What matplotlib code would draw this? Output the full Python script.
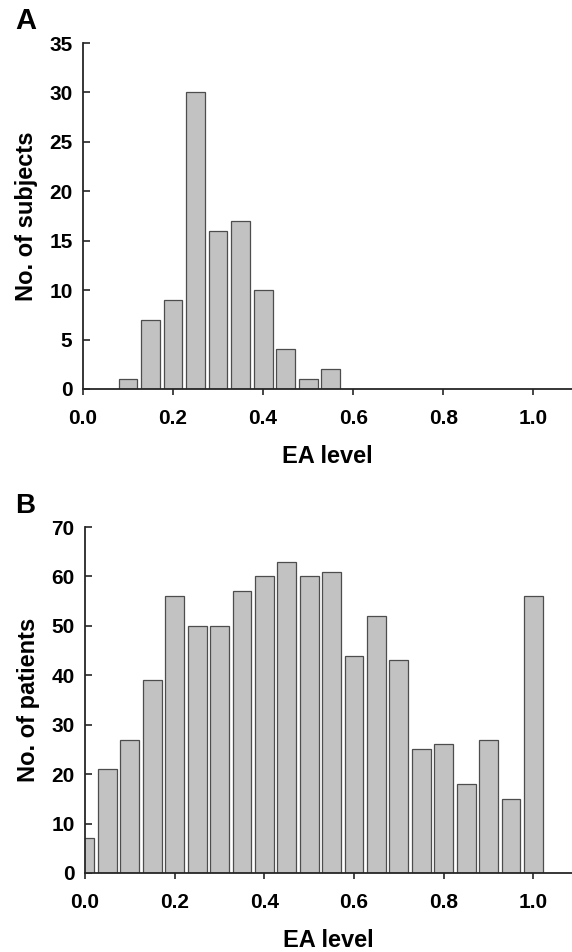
import matplotlib
matplotlib.use("Agg")
import matplotlib.pyplot as plt

plt.rcParams['font.family'] = ['Liberation Sans', 'DejaVu Sans']
plt.rcParams['font.weight'] = 'bold'

# Panel A: healthy subjects
ea_a = [0.10, 0.15, 0.20, 0.25, 0.30, 0.35, 0.40, 0.45, 0.50, 0.55]
subjects = [1, 7, 9, 30, 16, 17, 10, 4, 1, 2]

# Panel B: patients
ea_b = [0.00, 0.05, 0.10, 0.15, 0.20, 0.25, 0.30, 0.35, 0.40, 0.45, 0.50,
        0.55, 0.60, 0.65, 0.70, 0.75, 0.80, 0.85, 0.90, 0.95, 1.00]
patients = [7, 21, 27, 39, 56, 50, 50, 57, 60, 63, 60,
            61, 44, 52, 43, 25, 26, 18, 27, 15, 56]

xticks = [0.0, 0.2, 0.4, 0.6, 0.8, 1.0]

bar_fill = '#c2c2c2'
bar_edge = '#4d4d4d'
axis_col = '#262626'

fig = plt.figure(figsize=(5.72, 9.52), dpi=100)
ax_a = fig.add_axes([0.145, 0.5914, 0.855, 0.3634])
ax_b = fig.add_axes([0.1486, 0.083, 0.8514, 0.3634])


def style_axes(ax, ymax, ystep, ylabel):
    ax.set_xlim(0, 1.086)
    ax.set_ylim(0, ymax)
    ax.set_xticks(xticks)
    ax.set_xticklabels(['%.1f' % t for t in xticks])
    ax.set_yticks(range(0, ymax + 1, ystep))
    for s in ['top', 'right']:
        ax.spines[s].set_visible(False)
    for s in ['left', 'bottom']:
        ax.spines[s].set_color(axis_col)
        ax.spines[s].set_linewidth(1.3)
    ax.tick_params(axis='x', direction='out', length=4, width=1.2,
                   color=axis_col, labelsize=15, pad=10.5)
    ax.tick_params(axis='y', direction='in', length=5, width=1.2,
                   color=axis_col, labelsize=15, pad=7.5)
    ax.set_xlabel('EA level', fontsize=17, fontweight='bold', labelpad=12)
    ax.set_ylabel(ylabel, fontsize=17, fontweight='bold', labelpad=8)


ax_a.bar(ea_a, subjects, width=0.042, color=bar_fill, edgecolor=bar_edge,
         linewidth=0.9, zorder=2)
style_axes(ax_a, 35, 5, 'No. of subjects')

ax_b.bar(ea_b, patients, width=0.042, color=bar_fill, edgecolor=bar_edge,
         linewidth=0.9, zorder=2)
style_axes(ax_b, 70, 10, 'No. of patients')

fig.text(0.026, 0.993, 'A', fontsize=21, fontweight='bold', va='top', ha='left')
fig.text(0.026, 0.482, 'B', fontsize=20, fontweight='bold', va='top', ha='left')

fig.savefig('out.png', dpi=100)
